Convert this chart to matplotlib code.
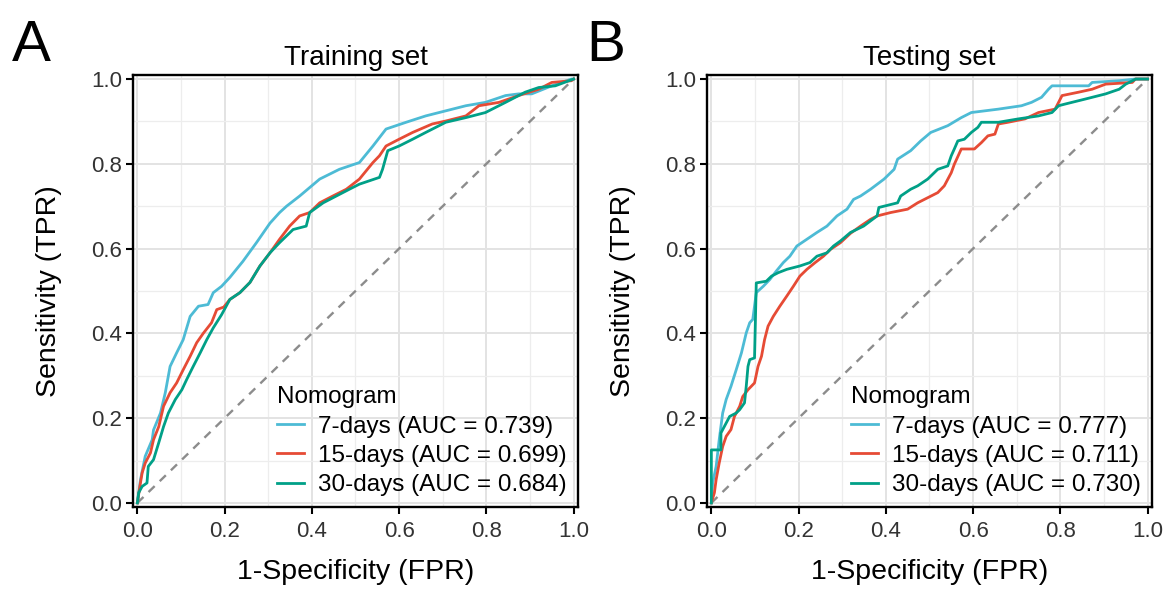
"""ROC curves of the nomogram for the training and testing sets."""

import matplotlib

matplotlib.use("Agg")
import matplotlib.pyplot as plt
from matplotlib.ticker import FormatStrFormatter, MultipleLocator

plt.rcParams["font.family"] = ["Liberation Sans", "DejaVu Sans"]

# ---- data (FPR, TPR) ----
train_7_fpr = [0, 0.007, 0.018, 0.034, 0.037, 0.053, 0.064, 0.075, 0.09, 0.105,
               0.121, 0.14, 0.162, 0.174, 0.193, 0.212, 0.242, 0.273, 0.304,
               0.326, 0.342, 0.372, 0.418, 0.463, 0.509, 0.54, 0.57, 0.616,
               0.661, 0.707, 0.753, 0.798, 0.844, 0.874, 0.904, 0.95, 0.995, 1.0]
train_7_tpr = [0, 0.054, 0.11, 0.149, 0.172, 0.212, 0.26, 0.322, 0.354, 0.385,
               0.44, 0.464, 0.468, 0.496, 0.511, 0.532, 0.57, 0.614, 0.66,
               0.685, 0.70, 0.724, 0.764, 0.787, 0.803, 0.842, 0.882, 0.898,
               0.913, 0.925, 0.937, 0.945, 0.961, 0.965, 0.965, 0.984, 1.0, 1.0]

train_15_fpr = [0, 0.007, 0.011, 0.018, 0.03, 0.037, 0.049, 0.06, 0.075, 0.09,
                0.105, 0.121, 0.136, 0.151, 0.17, 0.182, 0.198, 0.212, 0.235,
                0.258, 0.281, 0.304, 0.326, 0.349, 0.372, 0.395, 0.418, 0.448,
                0.479, 0.509, 0.54, 0.555, 0.57, 0.60, 0.631, 0.676, 0.707,
                0.753, 0.783, 0.829, 0.874, 0.92, 0.95, 0.995, 1.0]
train_15_tpr = [0, 0.047, 0.071, 0.094, 0.118, 0.149, 0.18, 0.228, 0.26, 0.283,
                0.314, 0.346, 0.378, 0.40, 0.425, 0.456, 0.462, 0.48, 0.496,
                0.52, 0.559, 0.59, 0.622, 0.653, 0.677, 0.685, 0.708, 0.724,
                0.74, 0.764, 0.803, 0.819, 0.842, 0.858, 0.874, 0.894, 0.901,
                0.913, 0.937, 0.945, 0.961, 0.976, 0.992, 0.996, 1.0]

train_30_fpr = [0, 0.003, 0.011, 0.022, 0.025, 0.037, 0.049, 0.06, 0.071, 0.087,
                0.102, 0.113, 0.128, 0.144, 0.159, 0.174, 0.193, 0.212, 0.235,
                0.258, 0.281, 0.304, 0.326, 0.357, 0.387, 0.395, 0.426, 0.456,
                0.486, 0.509, 0.555, 0.562, 0.574, 0.60, 0.631, 0.661, 0.707,
                0.753, 0.798, 0.844, 0.889, 0.92, 0.958, 1.0]
train_30_tpr = [0, 0.024, 0.039, 0.047, 0.086, 0.102, 0.142, 0.18, 0.212, 0.244,
                0.267, 0.291, 0.322, 0.354, 0.385, 0.413, 0.444, 0.48, 0.496,
                0.52, 0.559, 0.59, 0.614, 0.645, 0.653, 0.685, 0.708, 0.724,
                0.74, 0.752, 0.768, 0.787, 0.831, 0.842, 0.858, 0.874, 0.898,
                0.909, 0.921, 0.945, 0.969, 0.98, 0.984, 1.0]

test_7_fpr = [0, 0.003, 0.011, 0.018, 0.026, 0.034, 0.045, 0.057, 0.069, 0.08,
              0.088, 0.095, 0.103, 0.119, 0.134, 0.149, 0.165, 0.18, 0.196,
              0.219, 0.242, 0.265, 0.288, 0.311, 0.326, 0.342, 0.365, 0.396,
              0.419, 0.427, 0.457, 0.48, 0.503, 0.542, 0.573, 0.596, 0.658,
              0.711, 0.734, 0.757, 0.773, 0.781, 0.865, 0.873, 0.935, 0.972, 1.0]
test_7_tpr = [0, 0.047, 0.086, 0.149, 0.212, 0.244, 0.275, 0.314, 0.354, 0.401,
              0.425, 0.433, 0.496, 0.511, 0.527, 0.547, 0.567, 0.582, 0.606,
              0.622, 0.638, 0.653, 0.677, 0.693, 0.716, 0.724, 0.74, 0.764,
              0.787, 0.811, 0.831, 0.854, 0.874, 0.89, 0.909, 0.921, 0.929,
              0.937, 0.945, 0.957, 0.976, 0.984, 0.984, 0.992, 0.996, 1.0, 1.0]

test_15_fpr = [0, 0.007, 0.011, 0.018, 0.026, 0.034, 0.045, 0.053, 0.065, 0.072,
               0.084, 0.099, 0.107, 0.115, 0.122, 0.13, 0.142, 0.157, 0.173,
               0.188, 0.203, 0.219, 0.238, 0.257, 0.273, 0.296, 0.319, 0.342,
               0.365, 0.38, 0.411, 0.45, 0.473, 0.496, 0.519, 0.534, 0.55,
               0.557, 0.573, 0.603, 0.619, 0.634, 0.65, 0.658, 0.68, 0.719,
               0.75, 0.788, 0.804, 0.842, 0.873, 0.904, 0.965, 0.972, 1.0]
test_15_tpr = [0, 0.024, 0.055, 0.094, 0.133, 0.157, 0.173, 0.204, 0.228, 0.251,
               0.267, 0.283, 0.322, 0.346, 0.385, 0.417, 0.44, 0.464, 0.488,
               0.511, 0.535, 0.551, 0.567, 0.582, 0.598, 0.614, 0.636, 0.653,
               0.669, 0.677, 0.685, 0.693, 0.708, 0.72, 0.732, 0.748, 0.779,
               0.799, 0.835, 0.835, 0.85, 0.866, 0.87, 0.894, 0.898, 0.906,
               0.921, 0.929, 0.961, 0.969, 0.976, 0.988, 0.992, 1.0, 1.0]

test_30_fpr = [0, 0, 0.022, 0.022, 0.042, 0.057, 0.065, 0.076, 0.08, 0.084,
               0.088, 0.099, 0.103, 0.126, 0.138, 0.153, 0.173, 0.203, 0.226,
               0.242, 0.265, 0.28, 0.296, 0.319, 0.349, 0.38, 0.384, 0.427,
               0.434, 0.457, 0.473, 0.496, 0.519, 0.542, 0.55, 0.557, 0.565,
               0.58, 0.596, 0.611, 0.619, 0.658, 0.704, 0.75, 0.781, 0.796,
               0.811, 0.858, 0.904, 0.935, 0.95, 0.973, 1.0]
test_30_tpr = [0, 0.125, 0.125, 0.165, 0.204, 0.212, 0.22, 0.236, 0.275, 0.322,
               0.338, 0.342, 0.519, 0.523, 0.535, 0.543, 0.551, 0.559, 0.567,
               0.582, 0.59, 0.606, 0.618, 0.638, 0.653, 0.677, 0.697, 0.708,
               0.724, 0.74, 0.748, 0.764, 0.787, 0.795, 0.819, 0.835, 0.854,
               0.858, 0.874, 0.886, 0.898, 0.898, 0.906, 0.913, 0.921, 0.937,
               0.941, 0.953, 0.965, 0.976, 0.988, 1.0, 1.0]

series_labels = ["7-days", "15-days", "30-days"]
train_auc = [0.739, 0.699, 0.684]
test_auc = [0.777, 0.711, 0.730]
colors = ["#4DBBD5", "#E64B35", "#00A087"]

panels = [
    ("A", "Training set", [(train_7_fpr, train_7_tpr), (train_15_fpr, train_15_tpr),
                           (train_30_fpr, train_30_tpr)], train_auc),
    ("B", "Testing set", [(test_7_fpr, test_7_tpr), (test_15_fpr, test_15_tpr),
                          (test_30_fpr, test_30_tpr)], test_auc),
]

fig = plt.figure(figsize=(11.74, 5.89), dpi=100)
axes_lefts = [0.1133, 0.6022]

for left, (letter, title, curves, aucs) in zip(axes_lefts, panels):
    ax = fig.add_axes([left, 0.139, 0.379, 0.734])
    ax.set_xlim(-0.01, 1.01)
    ax.set_ylim(-0.01, 1.01)

    ax.xaxis.set_major_locator(MultipleLocator(0.2))
    ax.yaxis.set_major_locator(MultipleLocator(0.2))
    ax.xaxis.set_minor_locator(MultipleLocator(0.1))
    ax.yaxis.set_minor_locator(MultipleLocator(0.1))
    ax.grid(which="major", color="#E3E3E3", linewidth=1.4)
    ax.grid(which="minor", color="#EDEDED", linewidth=0.9)
    ax.set_axisbelow(True)

    ax.plot([0, 1], [0, 1], color="#8C8C8C", linewidth=1.7,
            linestyle=(0, (3.6, 3.0)))
    for (fpr, tpr), name, auc, color in zip(curves, series_labels, aucs, colors):
        ax.plot(fpr, tpr, color=color, linewidth=2.0,
                label=f"{name} (AUC = {auc:.3f})")

    for spine in ax.spines.values():
        spine.set_linewidth(1.7)
        spine.set_color("black")
    ax.tick_params(which="major", direction="out", length=5, width=1.5,
                   labelsize=16, labelcolor="#333333")
    ax.tick_params(axis="x", which="major", pad=5)
    ax.tick_params(axis="y", which="major", pad=3)
    ax.tick_params(which="minor", length=0)
    ax.xaxis.set_major_formatter(FormatStrFormatter("%.1f"))
    ax.yaxis.set_major_formatter(FormatStrFormatter("%.1f"))

    ax.set_xlabel("1-Specificity (FPR)", fontsize=20.5, labelpad=12)
    ax.set_ylabel("Sensitivity (TPR)", fontsize=20.5, labelpad=21)
    ax.set_title(title, fontsize=20, pad=7)

    leg = ax.legend(title="Nomogram", loc="lower right", frameon=False,
                    fontsize=17.5, title_fontsize=17.5, handlelength=1.1,
                    handletextpad=0.6, labelspacing=0.3,
                    borderaxespad=0.05, bbox_to_anchor=(1.0, 0.0))
    leg._legend_box.align = "left"

    fig.text(left - 0.103, 0.897, letter, fontsize=42, ha="left", va="baseline")

fig.savefig("out.png", dpi=100, facecolor="white")
